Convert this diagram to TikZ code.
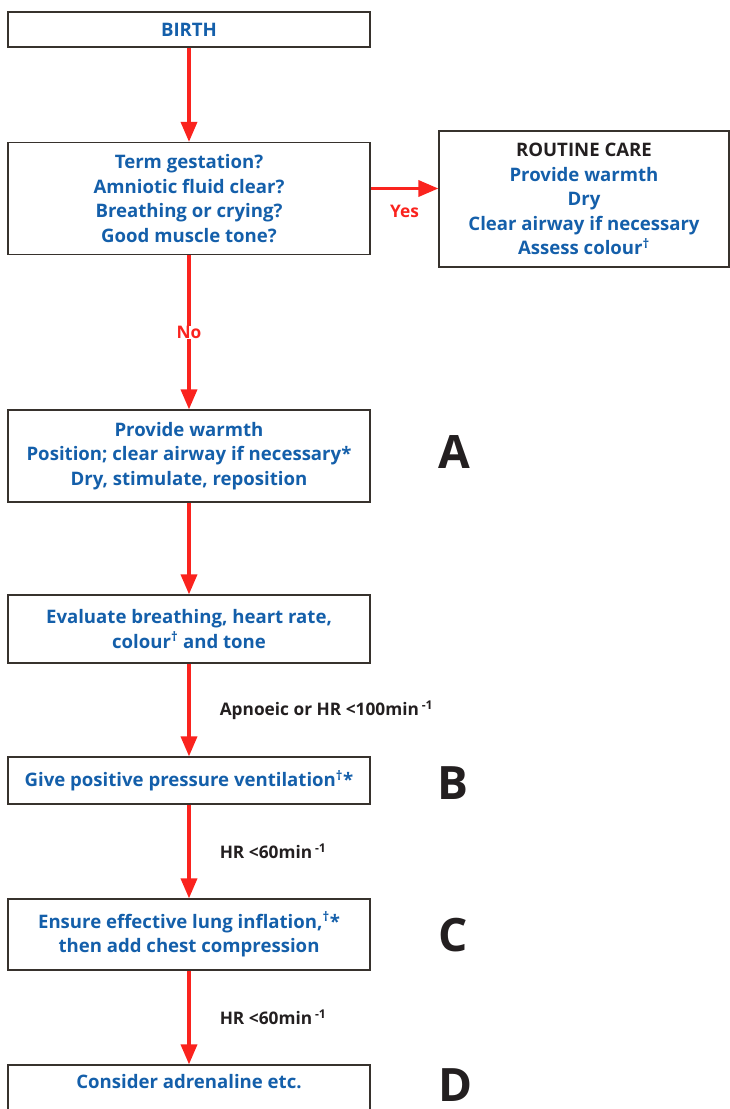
\documentclass[tikz,border=0pt]{standalone}
\usepackage{fontspec}
\setmainfont{Open Sans}
\usetikzlibrary{arrows.meta}
\definecolor{algblue}{RGB}{20,95,170}
\definecolor{algred}{RGB}{250,35,30}
\definecolor{algframe}{RGB}{55,50,45}
\definecolor{algdark}{RGB}{35,31,32}
\newcommand{\dg}{\textsuperscript{†}}
\newcommand{\permin}{min\,\textsuperscript{-1}}
\tikzset{
  stepbox/.style={draw=algframe,line width=1.2pt,text=algblue,align=center,
    minimum width=362pt,inner sep=0pt,font=\fontsize{18.6}{24.5}\selectfont\bfseries},
  flow/.style={draw=algred,line width=3.5pt,-{Triangle[width=16pt,length=20pt]}},
  cond/.style={inner sep=0pt,text=algdark,font=\fontsize{17.3}{20}\selectfont\bfseries},
  phase/.style={inner sep=0pt,text=algdark,font=\fontsize{46}{46}\selectfont\bfseries}
}

\begin{document}
\begin{tikzpicture}[x=1pt,y=-1pt]
\useasboundingbox (0,0) rectangle (730,1109);

\node [stepbox,minimum height=35pt] (birth) at (189,29.5) {BIRTH};
\node [stepbox,minimum height=112pt] (check) at (189,198.5)
{Term gestation?\\Amniotic fluid clear?\\Breathing or crying?\\Good muscle tone?};
\node [stepbox,minimum width=290pt,minimum height=136pt] (routine) at (584,199)
{\textcolor{algdark}{ROUTINE CARE}\\Provide warmth\\Dry\\Clear airway if necessary\\Assess colour\dg};
\node [stepbox,minimum height=92pt] (warm) at (189,456)
{Provide warmth\\Position; clear airway if necessary*\\Dry, stimulate, reposition};
\node [stepbox,minimum height=68pt] (eval) at (189,629)
{Evaluate breathing, heart rate,\\colour\dg{} and tone};
\node [stepbox,minimum height=47pt] (ppv) at (189,780.5)
{Give positive pressure ventilation\dg*};
\node [stepbox,minimum height=71pt] (ensure) at (189,934.5)
{Ensure effective lung inflation,\dg*\\then add chest compression};
% bottom edge runs off the page
\node [stepbox,minimum height=64pt] (adren) at (189,1097)
{Consider adrenaline etc.\\ \strut};

\node [phase] (pa) at (454,452.5) {A};
\node [phase] (pb) at (453,783) {B};
\node [phase] (pc) at (453,935) {C};
\node [phase] (pd) at (456,1085) {D};

\draw [flow] (birth) -- (check);
\draw [flow] ([yshift=10pt]check.east) -- ([yshift=10pt]check.east -| routine.west)
  node [midway,yshift=-23pt,cond,text=algred] {Yes};
\draw [flow] (check) -- node [fill=white,inner sep=4pt,cond,text=algred] {No} (warm);
\draw [flow] (warm) -- (eval);
\draw [flow] (eval) -- node [cond,anchor=west,xshift=29pt] {Apnoeic or HR <100\permin} (ppv);
\draw [flow] (ppv) -- node [cond,anchor=west,xshift=29pt] {HR <60\permin} (ensure);
\draw [flow] (ensure) -- node [cond,anchor=west,xshift=29pt] {HR <60\permin} (adren);
\end{tikzpicture}
\end{document}
